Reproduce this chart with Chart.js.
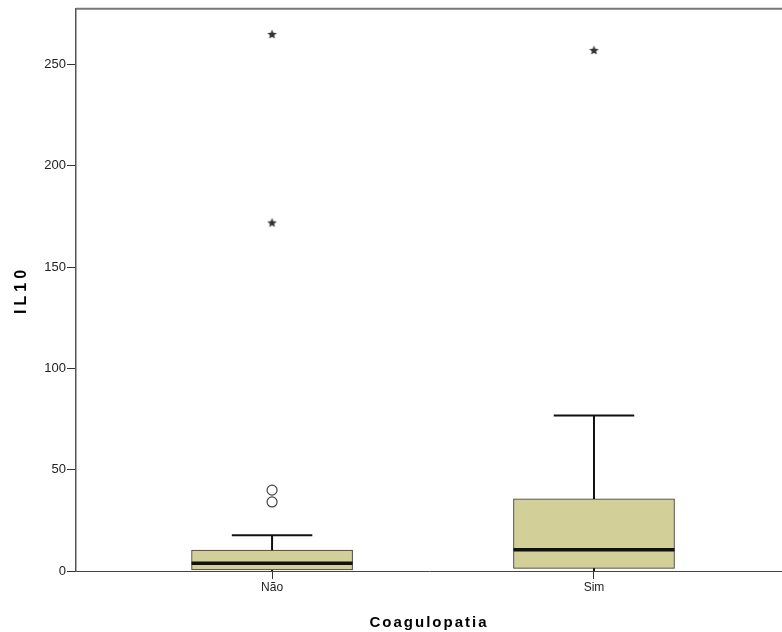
<!DOCTYPE html>
<html>
<head>
<meta charset="utf-8">
<script src="https://cdn.jsdelivr.net/npm/chart.js@4/dist/chart.umd.min.js"></script>
<style>
  html, body { margin: 0; padding: 0; background: #fff; }
  #wrap { width: 782px; height: 632px; }
</style>
</head>
<body>
<div id="wrap"><canvas id="c" width="782" height="632"></canvas></div>
<script>
// IL10 by coagulopathy group: five-number summaries and outliers
const categories = ['Não', 'Sim'];
const whiskerLow = [0, 0];
const q1 = [0.5, 1.3];
const median = [3.8, 10.5];
const q3 = [10.3, 35.6];
const whiskerHigh = [17.7, 76.8];
const mildOutliers = [[34.1, 39.9], []];          // drawn as open circles
const extremeOutliers = [[171.8, 264.8], [256.9]]; // drawn as stars
const yTicks = [0, 50, 100, 150, 200, 250];

const positions = categories.map((_, i) => i + 1);
const BOX_HALF = 0.25;
const CAP_HALF = 0.125;

// small filled five-point star used as the marker for extreme values
function makeStar(size, color) {
  const cv = document.createElement('canvas');
  cv.width = size; cv.height = size;
  const g = cv.getContext('2d');
  const cx = size / 2, cy = size / 2, R = size / 2 - 0.5, r = R * 0.45;
  g.beginPath();
  for (let k = 0; k < 10; k++) {
    const rad = k % 2 === 0 ? R : r;
    const a = -Math.PI / 2 + k * Math.PI / 5;
    const px = cx + rad * Math.cos(a), py = cy + rad * Math.sin(a);
    if (k === 0) g.moveTo(px, py); else g.lineTo(px, py);
  }
  g.closePath();
  g.fillStyle = color;
  g.fill();
  return cv;
}
const starImg = makeStar(11, '#333');

function segment(x0, y0, x1, y1, width) {
  return {
    type: 'line',
    data: [{ x: x0, y: y0 }, { x: x1, y: y1 }],
    borderColor: '#111',
    borderWidth: width,
    pointRadius: 0,
    fill: false,
    order: 1
  };
}

const datasets = [];
datasets.push({
  type: 'bar',
  data: positions.map((x, i) => ({ x, y: [q1[i], q3[i]] })),
  backgroundColor: '#d3cf98',
  borderColor: '#333',
  borderWidth: 1,
  borderSkipped: false,
  barThickness: 161,
  order: 2
});
positions.forEach((x, i) => {
  datasets.push(segment(x, q3[i], x, whiskerHigh[i], 2));
  datasets.push(segment(x - CAP_HALF, whiskerHigh[i], x + CAP_HALF, whiskerHigh[i], 2));
  datasets.push(segment(x, q1[i], x, whiskerLow[i], 2));
  datasets.push(segment(x - BOX_HALF, median[i], x + BOX_HALF, median[i], 3.5));
});
datasets.push({
  type: 'scatter',
  data: positions.flatMap((x, i) => mildOutliers[i].map(v => ({ x, y: v }))),
  pointStyle: 'circle',
  pointRadius: 5,
  backgroundColor: 'rgba(0,0,0,0)',
  borderColor: '#444',
  borderWidth: 1.2,
  order: 0
});
datasets.push({
  type: 'scatter',
  data: positions.flatMap((x, i) => extremeOutliers[i].map(v => ({ x, y: v }))),
  pointStyle: starImg,
  pointRadius: 5,
  order: 0
});

// frame line along the top of the plot area
const topFrame = {
  id: 'topFrame',
  afterDraw(chart) {
    const { ctx, chartArea: a } = chart;
    ctx.save();
    ctx.strokeStyle = '#777';
    ctx.lineWidth = 2;
    ctx.beginPath();
    ctx.moveTo(a.left, a.top);
    ctx.lineTo(chart.width, a.top);
    ctx.stroke();
    ctx.restore();
  }
};

// axis titles are drawn letter-spaced
const spacedTitles = {
  id: 'spacedTitles',
  afterLayout(chart) {
    Object.values(chart.scales).forEach(s => {
      if (s._spaced) return;
      const orig = s.drawTitle.bind(s);
      const spacing = s.axis === 'y' ? '4px' : '2px';
      s.drawTitle = function (area) {
        const ctx = this.ctx;
        ctx.save();
        ctx.letterSpacing = spacing;
        orig(area);
        ctx.restore();
      };
      s._spaced = true;
    });
  }
};

Chart.defaults.font.family = '"Liberation Sans", Arial, sans-serif';

new Chart(document.getElementById('c'), {
  data: { datasets },
  options: {
    responsive: false,
    animation: false,
    devicePixelRatio: 1,
    layout: { padding: { top: 7, right: 0, left: 0, bottom: 0 }, autoPadding: false },
    plugins: { legend: { display: false }, tooltip: { enabled: false } },
    scales: {
      x: {
        type: 'linear',
        offset: false,
        min: 0.391,
        max: 2.584,
        afterBuildTicks: s => { s.ticks = positions.map(v => ({ value: v })); },
        afterFit: s => { s.height = 61; },
        ticks: {
          color: '#222',
          font: { size: 12 },
          padding: 1,
          maxRotation: 0,
          autoSkip: false,
          callback: v => categories[v - 1]
        },
        grid: { offset: false, drawOnChartArea: false, drawTicks: true, tickLength: 8, color: '#333' },
        border: { display: true, color: '#444', width: 1 },
        title: {
          display: true,
          text: 'Coagulopatia',
          color: '#000',
          font: { size: 15, weight: 'bold' },
          padding: { top: 5, bottom: 0 }
        }
      },
      y: {
        type: 'linear',
        min: 0,
        max: 277.5,
        afterBuildTicks: s => { s.ticks = yTicks.map(v => ({ value: v })); },
        afterFit: s => { s.width = 76; },
        ticks: { color: '#222', font: { size: 13 }, padding: 1 },
        grid: { drawOnChartArea: false, drawTicks: true, tickLength: 9, color: '#333' },
        border: { display: true, color: '#555', width: 1.5 },
        title: {
          display: true,
          text: 'IL10',
          color: '#000',
          font: { size: 16, weight: 'bold' },
          padding: { top: 12, bottom: 0 }
        }
      }
    }
  },
  plugins: [topFrame, spacedTitles]
});
</script>
</body>
</html>
